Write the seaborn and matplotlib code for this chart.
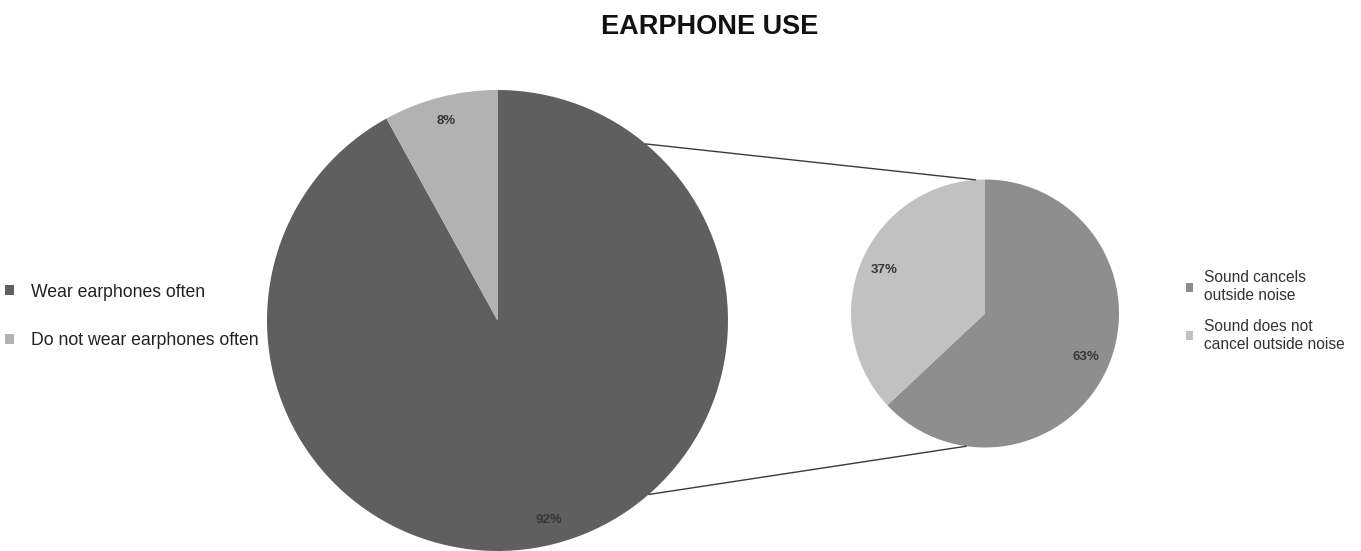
import numpy as np
import matplotlib
matplotlib.use("Agg")
import matplotlib.pyplot as plt
import seaborn as sns

# ---- data ----
title = "EARPHONE USE"
main_labels = ["Wear earphones often", "Do not wear earphones often"]
main_values = [92, 8]
sub_labels = ["Sound cancels\noutside noise", "Sound does not\ncancel outside noise"]
sub_values = [63, 37]
main_colors = ["#5f5f5f", "#b2b2b2"]
sub_colors = ["#8e8e8e", "#c1c1c1"]

sns.set_theme(style="white")
plt.rcParams["font.family"] = ["Liberation Sans", "DejaVu Sans"]

W, H = 1361, 551
fig = plt.figure(figsize=(W / 100, H / 100), dpi=100)
ax = fig.add_axes([0, 0, 1, 1])
ax.set_xlim(0, W)
ax.set_ylim(0, H)
ax.set_aspect("equal")
ax.axis("off")

big_c, big_r = (497.5, H - 320.5), 230.5
small_c, small_r = (985.0, H - 313.5), 134.0

wedges1, _, auto1 = ax.pie(main_values, colors=main_colors, startangle=90, counterclock=False,
                           center=big_c, radius=big_r, autopct="%d%%", pctdistance=0.895,
                           wedgeprops=dict(linewidth=0), frame=False)
wedges2, _, auto2 = ax.pie(sub_values, colors=sub_colors, startangle=90, counterclock=False,
                           center=small_c, radius=small_r, autopct="%d%%", pctdistance=0.82,
                           wedgeprops=dict(linewidth=0), frame=False)
ax.set_xlim(0, W)
ax.set_ylim(0, H)

for t in list(auto1) + list(auto2):
    t.set_fontsize(9.5)
    t.set_fontweight("bold")
    t.set_color("#363636")

# connector lines (bar-of-pie style)
def pt(c, r, deg):
    a = np.deg2rad(deg)
    return c[0] + r * np.cos(a), c[1] + r * np.sin(a)

for a1, a2 in [(50, 94), (-49, -98)]:
    p1 = pt(big_c, big_r, a1)
    p2 = pt(small_c, small_r, a2)
    ax.plot([p1[0], p2[0]], [p1[1], p2[1]], color="#3a3a3a", lw=1.0)

fig.text(710 / W, 1 - 27 / H, title, ha="center", va="center",
         fontsize=19.5, fontweight="bold", color="#111111")

leg1 = fig.legend(wedges1, main_labels, loc="center left", bbox_to_anchor=(0.0, 1 - 316.5 / H),
                  frameon=False, fontsize=12.7, handlelength=0.5, handleheight=0.5,
                  handletextpad=0.95, labelspacing=1.8, borderaxespad=0, borderpad=0.3,
                  labelcolor="#222222")
leg2 = fig.legend(wedges2, sub_labels, loc="center left", bbox_to_anchor=(1181 / W, 1 - 311 / H),
                  frameon=False, fontsize=11.2, handlelength=0.5, handleheight=0.5,
                  handletextpad=0.65, labelspacing=1.05, borderaxespad=0, borderpad=0.3,
                  labelcolor="#333333")

fig.savefig("out.png", dpi=100, facecolor="white")
